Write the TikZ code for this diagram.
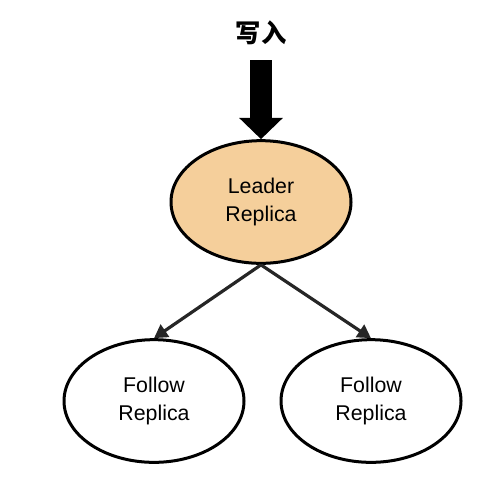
\documentclass[tikz,border=0pt]{standalone}
\usepackage{fontspec}
\setmainfont{Liberation Sans}
\newfontfamily\cjk{Noto Sans CJK SC}
\usetikzlibrary{shapes.geometric,arrows.meta}
\definecolor{leaderfill}{RGB}{245,207,155}
\definecolor{linkgray}{RGB}{38,38,38}
\tikzset{
  replica/.style={ellipse,draw=black,line width=2.25pt,minimum width=135pt,minimum height=92pt,
    align=center,inner sep=0pt,font=\fontsize{16}{21}\selectfont},
  link/.style={draw=linkgray,line width=2.4pt,-{Triangle[width=11pt,length=10pt]}},
  bigin/.style={line width=16.5pt,-{Triangle[width=32pt,length=16pt]}}
}
\begin{document}
\begin{tikzpicture}[x=0.75pt,y=0.75pt,yscale=-1,xscale=1]
    \useasboundingbox (0,0) rectangle (484,476);
    % Ellipses
    \node[replica,fill=leaderfill] (leader) at (261,202) {Leader\\Replica};
    \node[replica,fill=white] (followL) at (154,401) {Follow\\Replica};
    \node[replica,fill=white] (followR) at (371,401) {Follow\\Replica};
    % Text Node
    \node (write) at (261,33) {\cjk\bfseries\fontsize{19}{19}\selectfont 写入};
    \coordinate (inTop) at (261,60);
    % Arrows
    \draw[bigin] (inTop) -- (leader.north);
    \draw[link] (leader.south) -- (followL.north);
    \draw[link] (leader.south) -- (followR.north);
\end{tikzpicture}
\end{document}
